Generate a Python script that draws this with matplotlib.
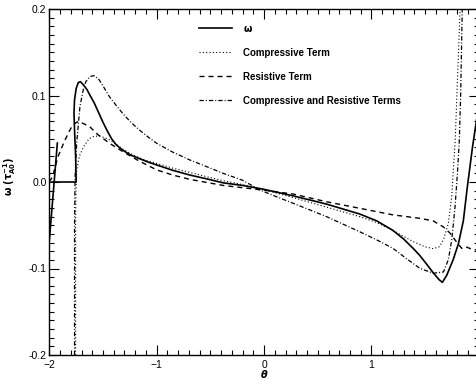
import numpy as np
import matplotlib
matplotlib.use("Agg")
import matplotlib.pyplot as plt
from matplotlib.ticker import MultipleLocator, FormatStrFormatter

plt.rcParams['font.family'] = ['Liberation Sans', 'DejaVu Sans']
plt.rcParams['mathtext.fontset'] = 'dejavusans'

nan = np.nan

# growth rate omega (solid); nan splits the two branches
theta_w = [-2.0, -1.925, nan,
           -1.975, -1.75, -1.755, -1.765, -1.77, -1.765, -1.75, -1.73, -1.71,
           -1.68, -1.65, -1.62, -1.58, -1.54, -1.50, -1.46, -1.42, -1.38,
           -1.34, -1.30, -1.24, -1.16, -1.08, -1.0, -0.85, -0.69, -0.53,
           -0.38, -0.2, 0.0, 0.27, 0.58, 0.89, 1.05, 1.2, 1.3, 1.39, 1.45,
           1.52, 1.575, 1.63, 1.66, 1.70, 1.76, 1.81, 1.855, 1.89, 1.94, 2.0]
omega_w = [-0.068, 0.045, nan,
           0.0, 0.0, 0.03, 0.06, 0.08, 0.095, 0.108, 0.115, 0.116,
           0.112, 0.107, 0.100, 0.091, 0.080, 0.069, 0.059, 0.050, 0.0435,
           0.039, 0.0355, 0.031, 0.027, 0.023, 0.0197, 0.0135, 0.008, 0.0035,
           -0.001, -0.004, -0.0085, -0.016, -0.0255, -0.037, -0.045, -0.056,
           -0.066, -0.077, -0.085, -0.096, -0.105, -0.113, -0.116, -0.108,
           -0.09, -0.071, -0.045, -0.008, 0.04, 0.09]

# compressive term only (dotted)
theta_c = [-1.755, -1.755, -1.752, -1.745, -1.72, -1.68, -1.63, -1.58,
           -1.53, -1.48, -1.438, -1.38, -1.314, -1.2, -1.1, -1.0, -0.85,
           -0.69, -0.53, -0.38, -0.2, 0.0, 0.27, 0.58, 0.89, 1.05, 1.2,
           1.3, 1.39, 1.5, 1.575, 1.63, 1.67, 1.715, 1.747, 1.765, 1.78,
           1.795, 1.81, 1.825]
omega_c = [-0.2, -0.05, -0.01, 0.014, 0.03, 0.041, 0.05, 0.053,
           0.053, 0.051, 0.0486, 0.044, 0.0378, 0.030, 0.025, 0.0215, 0.016,
           0.011, 0.006, 0.0015, -0.003, -0.009, -0.018, -0.029, -0.040,
           -0.047, -0.056, -0.063, -0.069, -0.075, -0.077, -0.075, -0.067,
           -0.048, -0.017, 0.02, 0.05, 0.1, 0.15, 0.2]

# resistive term only (dashed)
theta_r = [-2.0, -1.97, -1.92, -1.86, -1.80, -1.76, -1.73, -1.69, -1.624,
           -1.55, -1.438, -1.314, -1.16, -1.0, -0.85, -0.69, -0.38, 0.0,
           0.27, 0.58, 0.89, 1.2, 1.45, 1.575, 1.67, 1.73, 1.79, 1.84,
           1.88, 1.92, 1.96, 2.0]
omega_r = [0.0, 0.006, 0.029, 0.047, 0.062, 0.068, 0.070, 0.068, 0.064,
           0.055, 0.0447, 0.035, 0.024, 0.014, 0.008, 0.003, -0.004, -0.0095,
           -0.0139, -0.0228, -0.0304, -0.038, -0.042, -0.045, -0.052, -0.059,
           -0.069, -0.0767, -0.075, -0.077, -0.078, -0.080]

# compressive and resistive terms together (dash-dot)
theta_cr = [-1.765, -1.765, -1.76, -1.745, -1.715, -1.685, -1.66, -1.62,
            -1.58, -1.535, -1.49, -1.44, -1.38, -1.315, -1.24, -1.16, -1.08,
            -1.0, -0.85, -0.69, -0.53, -0.38, -0.2, -0.04, 0.115, 0.27,
            0.42, 0.58, 0.74, 0.89, 1.05, 1.2, 1.33, 1.45, 1.575, 1.67,
            1.715, 1.747, 1.778, 1.80, 1.818, 1.83, 1.845]
omega_cr = [-0.2, -0.05, 0.006, 0.045, 0.087, 0.106, 0.116, 0.122,
            0.123, 0.118, 0.109, 0.0986, 0.089, 0.079, 0.069, 0.060, 0.052,
            0.0447, 0.0345, 0.0254, 0.0175, 0.010, 0.002, -0.0092, -0.017,
            -0.0246, -0.032, -0.040, -0.049, -0.0575, -0.067, -0.0767,
            -0.089, -0.0998, -0.1055, -0.104, -0.09, -0.067, -0.0286, 0.01,
            0.0486, 0.1, 0.2]

fig = plt.figure(figsize=(4.77, 3.79), dpi=100)
ax = fig.add_axes([49.3 / 477, 24 / 379, 429.6 / 477, 346 / 379])

ax.plot(theta_w, omega_w, color='black', lw=1.2, label=r'$\mathbf{\omega}$')
ax.plot(theta_c, omega_c, color='black', lw=0.8, ls=(0, (1, 2)),
        label='Compressive Term')
ax.plot(theta_r, omega_r, color='black', lw=1.0, ls=(0, (3.6, 2.9)),
        label='Resistive Term')
ax.plot(theta_cr, omega_cr, color='black', lw=0.9, ls=(0, (3.5, 1.6, 0.8, 1.6)),
        label='Compressive and Resistive Terms')

ax.set_xlim(-2, 2)
ax.set_ylim(-0.2, 0.2)
ax.set_xticks([-2, -1, 0, 1])
ax.set_yticks([-0.2, -0.1, 0.0, 0.1, 0.2])
ax.xaxis.set_minor_locator(MultipleLocator(0.1))
ax.yaxis.set_minor_locator(MultipleLocator(0.01))
ax.yaxis.set_major_formatter(FormatStrFormatter('%.1f'))
ax.tick_params(which='both', direction='in', top=True, right=True,
               labelsize=7.5, width=0.8)
ax.tick_params(which='major', length=7)
ax.tick_params(axis='y', which='major', pad=2)
ax.tick_params(axis='x', which='major', pad=3.5)
ax.tick_params(which='minor', length=3.5)
for s in ax.spines.values():
    s.set_linewidth(1.0)

ax.set_xlabel('θ', fontsize=7, fontweight='bold', fontstyle='italic',
              family='DejaVu Sans')
ax.xaxis.set_label_coords(0.5, -0.042)
ax.set_ylabel(r'$\mathbf{\omega\ (\tau_{A0}^{-1})}$', fontsize=7)
ax.yaxis.set_label_coords(-0.072, 0.517)

leg = ax.legend(loc='upper left', bbox_to_anchor=(0.348, 0.958),
                frameon=False, borderpad=0, borderaxespad=0,
                handlelength=3.4, handletextpad=1.1, labelspacing=1.45,
                prop={'weight': 'bold', 'size': 7})

fig.savefig('out.png', dpi=100)
